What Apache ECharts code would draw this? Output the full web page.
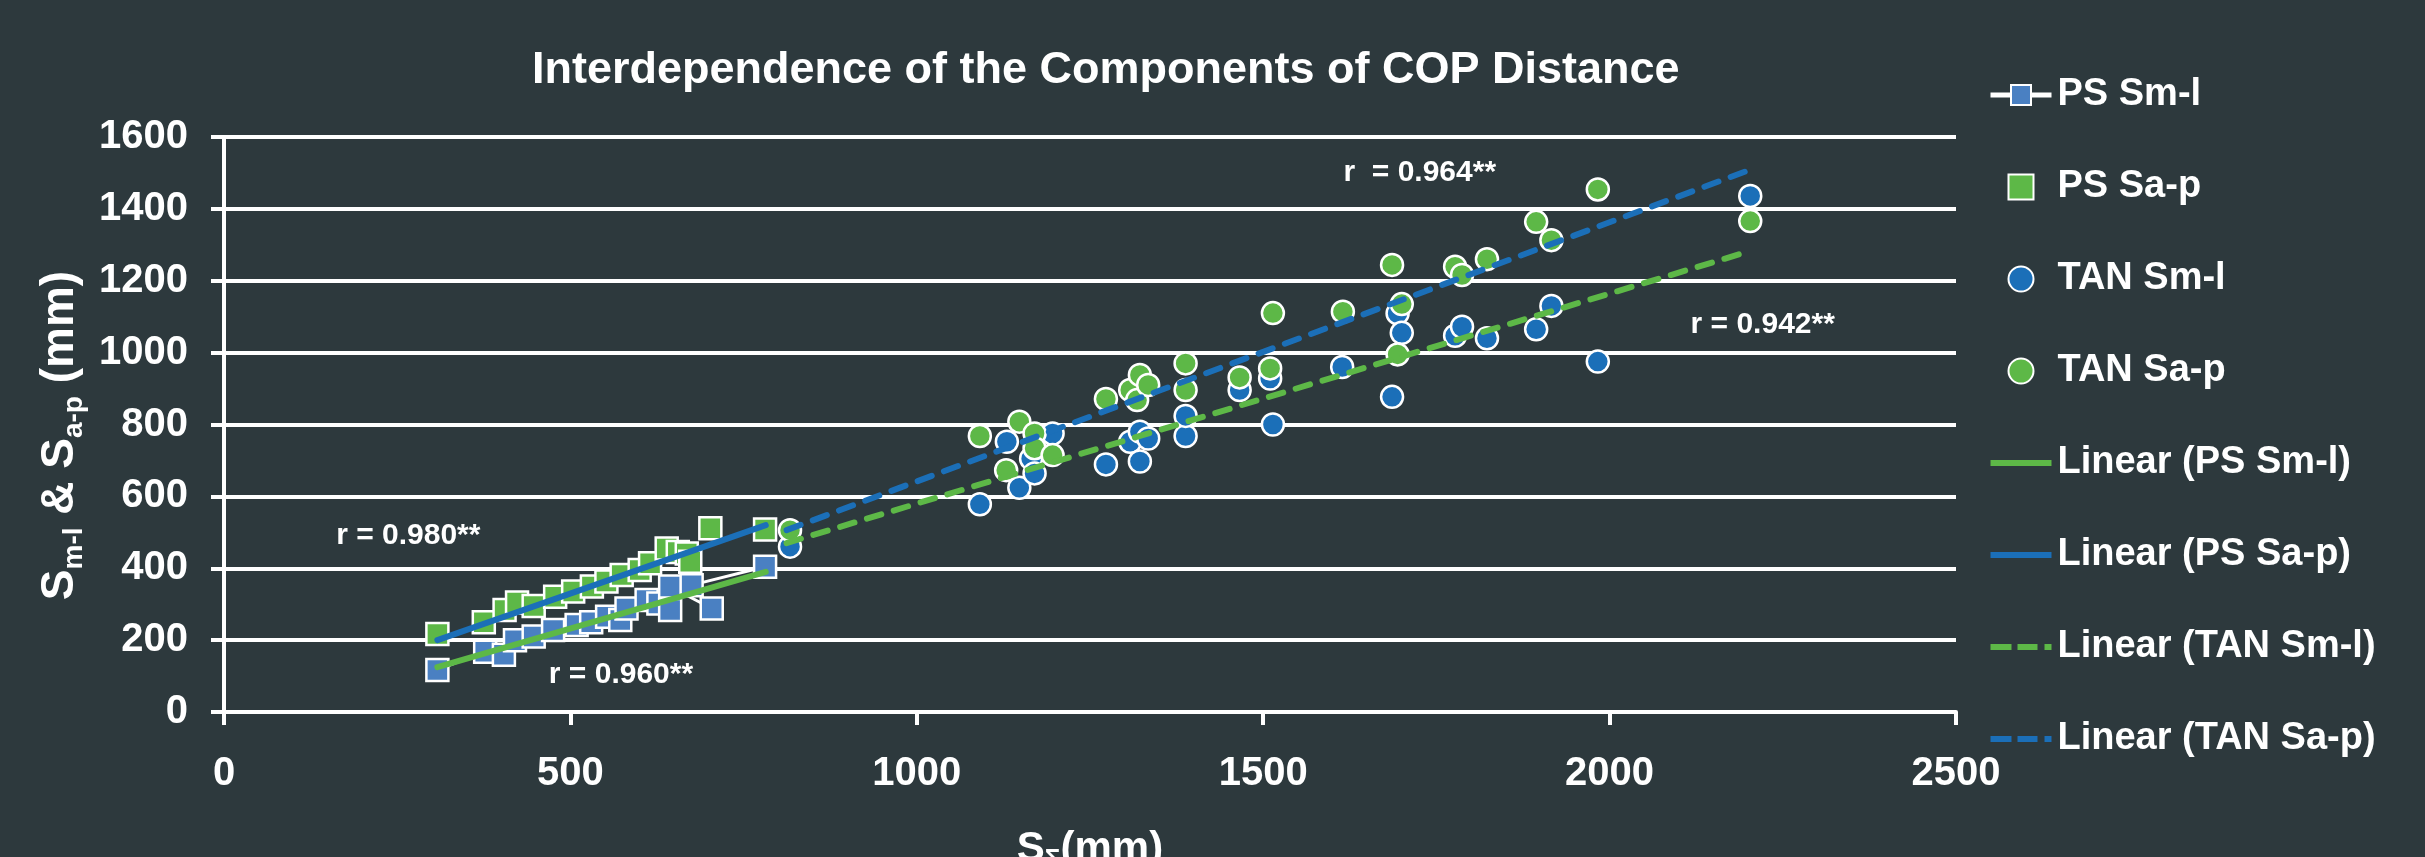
<!DOCTYPE html>
<html><head><meta charset="utf-8">
<script src="https://cdn.jsdelivr.net/npm/echarts@6/dist/echarts.min.js"></script>
<style>html,body{margin:0;padding:0;background:#2d393d;}#c{width:2425px;height:857px;}</style>
</head><body><div id="c"></div>
<script>
const chartTitle = 'Interdependence of the Components of COP Distance';
const xTicks = [0, 500, 1000, 1500, 2000, 2500];
const yTicks = [0, 200, 400, 600, 800, 1000, 1200, 1400, 1600];
const seriesNames = ['PS Sm-l', 'PS Sa-p', 'TAN Sm-l', 'TAN Sa-p',
  'Linear (PS Sm-l)', 'Linear (PS Sa-p)', 'Linear (TAN Sm-l)', 'Linear (TAN Sa-p)'];

const psSml = [[308,117],[377,168],[404,159],[420,200],[447,210],[475,228],[509,242],[530,250],[553,265],
  [572,256],[581,288],[610,312],[627,302],[644,284],[644,349],[704,288],[675,353],[781,404]];
const psSap = [[308,217],[375,250],[405,284],[423,305],[447,295],[478,321],[504,335],[531,349],[552,363],
  [574,381],[600,395],[615,414],[639,455],[655,445],[668,441],[673,418],[702,511],[781,508]];
const tanSml = [[817,460],[1091,578],[1130,752],[1148,624],[1165,705],[1170,664],[1196,775],[1273,689],
  [1308,752],[1322,697],[1322,780],[1334,761],[1388,768],[1388,824],[1466,896],[1510,928],[1514,800],
  [1614,960],[1686,877],[1694,1109],[1700,1055],[1777,1047],[1787,1072],[1823,1040],[1894,1065],
  [1916,1130],[1983,975],[2203,1436]];
const tanSap = [[817,506],[1091,768],[1129,673],[1148,808],[1170,775],[1170,734],[1196,715],[1273,871],
  [1308,896],[1318,868],[1322,938],[1334,910],[1388,970],[1388,896],[1466,931],[1510,956],[1514,1110],
  [1615,1114],[1686,1244],[1694,995],[1700,1135],[1777,1239],[1787,1216],[1823,1260],[1894,1364],
  [1916,1313],[1983,1454],[2203,1366]];
const trendPsSml = [[308,125],[782,390]];
const trendPsSap = [[308,200],[782,520]];
const trendTanSml = [[812,470],[2198,1280]];
const trendTanSap = [[812,506],[2207,1512]];
const rLabels = [['r = 0.980**',266,491],['r = 0.960**',573,103],['r  = 0.964**',1726,1500],['r = 0.942**',2221,1077]];

const FONT = '"Liberation Sans", Arial, sans-serif';
const WHITE = '#ffffff';
const C_SQ_BLUE = '#4a80c2', C_GREEN = '#5db847', C_BLUE = '#1b6fb8';
const ICON_SQUARE = 'path://M0,0H10V10H0Z';
const ICON_SOLID = 'path://M0,0H61V6H0Z';
const ICON_DASH = 'path://M0,0H21V6H0Z M27,0H47V6H27Z M54,0H61V6H54Z';

const chart = echarts.init(document.getElementById('c'), null, {renderer: 'canvas'});
function markerSeries(name, type, data, symbol, color, extra) {
  return Object.assign({
    name, type, data, symbol, symbolSize: 22,
    itemStyle: {color, borderColor: WHITE, borderWidth: 2.5, opacity: 1},
    emphasis: {disabled: true}, animation: false
  }, extra || {});
}
function trendSeries(name, data, color, dashed) {
  return {
    name, type: 'line', data, symbol: 'none', showSymbol: false, z: 5,
    itemStyle: {color, borderWidth: 0},
    lineStyle: {color, width: 6, type: dashed ? [15, 13] : 'solid', cap: 'round'},
    emphasis: {disabled: true}, animation: false
  };
}
const option = {
  backgroundColor: '#2d393d',
  animation: false,
  title: {
    text: chartTitle, left: 527, top: 43,
    textStyle: {color: WHITE, fontFamily: FONT, fontWeight: 'bold', fontSize: 45}
  },
  legend: {
    orient: 'vertical', left: 1983, top: 70,
    itemWidth: 61, itemHeight: 25, itemGap: 52,
    data: [
      {name: seriesNames[0], lineStyle: {width: 5}},
      {name: seriesNames[1], icon: ICON_SQUARE},
      seriesNames[2], seriesNames[3],
      {name: seriesNames[4], icon: ICON_SOLID},
      {name: seriesNames[5], icon: ICON_SOLID},
      {name: seriesNames[6], icon: ICON_DASH},
      {name: seriesNames[7], icon: ICON_DASH}
    ],
    textStyle: {color: WHITE, fontFamily: FONT, fontWeight: 'bold', fontSize: 38, lineHeight: 40, padding: [0,0,0,1]},
    selectedMode: false
  },
  grid: {left: 224, right: 469, top: 137, bottom: 145, containLabel: false, outerBoundsMode: 'none'},
  xAxis: {
    type: 'value', min: xTicks[0], max: xTicks[xTicks.length - 1], interval: xTicks[1] - xTicks[0],
    axisLine: {show: true, lineStyle: {color: WHITE, width: 4}},
    axisTick: {show: true, length: 13, lineStyle: {color: WHITE, width: 4}},
    splitLine: {show: false},
    axisLabel: {color: WHITE, fontFamily: FONT, fontWeight: 'bold', fontSize: 40, margin: 42,
      formatter: v => String(v)},
    name: '{b|S}{s|Σ}{b|(mm)}', nameLocation: 'middle', nameGap: 113,
    nameTextStyle: {color: WHITE, fontFamily: FONT, fontWeight: 'bold', fontSize: 42,
      rich: {b: {color: WHITE, fontFamily: FONT, fontWeight: 'bold', fontSize: 42, lineHeight: 48},
             s: {color: WHITE, fontFamily: FONT, fontWeight: 'bold', fontSize: 26, lineHeight: 26, verticalAlign: 'bottom'}}}
  },
  yAxis: {
    type: 'value', min: yTicks[0], max: yTicks[yTicks.length - 1], interval: yTicks[1] - yTicks[0],
    axisLine: {show: true, lineStyle: {color: WHITE, width: 4}},
    axisTick: {show: true, length: 13, lineStyle: {color: WHITE, width: 4}},
    splitLine: {show: true, lineStyle: {color: WHITE, width: 4}},
    axisLabel: {color: WHITE, fontFamily: FONT, fontWeight: 'bold', fontSize: 40, margin: 36,
      formatter: v => String(v)},
    name: '{b|S}{s|m-l}{b| & S}{s|a-p}{b| (mm)}', nameLocation: 'middle', nameGap: 128,
    nameTextStyle: {color: WHITE, fontFamily: FONT, fontWeight: 'bold', fontSize: 46, padding: [0, 22, 0, 0],
      rich: {b: {color: WHITE, fontFamily: FONT, fontWeight: 'bold', fontSize: 46, lineHeight: 56},
             s: {color: WHITE, fontFamily: FONT, fontWeight: 'bold', fontSize: 28, lineHeight: 28, verticalAlign: 'bottom'}}}
  },
  series: [
    markerSeries(seriesNames[0], 'line', psSml, 'rect', C_SQ_BLUE,
      {lineStyle: {color: WHITE, width: 3}, showSymbol: true, z: 2}),
    markerSeries(seriesNames[1], 'scatter', psSap, 'rect', C_GREEN, {z: 2}),
    markerSeries(seriesNames[2], 'scatter', tanSml, 'circle', C_BLUE, {z: 2}),
    markerSeries(seriesNames[3], 'scatter', tanSap, 'circle', C_GREEN, {z: 2}),
    trendSeries(seriesNames[4], trendPsSml, C_GREEN, false),
    trendSeries(seriesNames[5], trendPsSap, C_BLUE, false),
    trendSeries(seriesNames[6], trendTanSml, C_GREEN, true),
    trendSeries(seriesNames[7], trendTanSap, C_BLUE, true),
    {
      name: 'labels', type: 'scatter', symbolSize: 0, silent: true, z: 6,
      itemStyle: {color: 'rgba(0,0,0,0)', opacity: 1},
      data: rLabels.map(r => ({value: [r[1], r[2]], label: {formatter: r[0]}})),
      label: {show: true, position: 'inside', color: WHITE, opacity: 1, fontFamily: FONT, fontWeight: 'bold', fontSize: 30,
        textBorderWidth: 0, textBorderColor: 'transparent'},
      animation: false
    }
  ]
};
chart.setOption(option);
</script></body></html>
